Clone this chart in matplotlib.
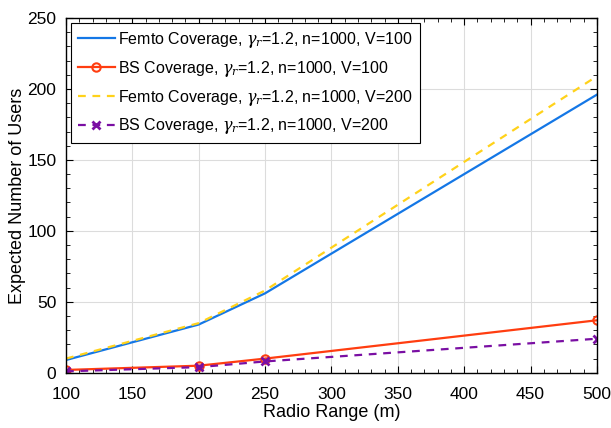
import matplotlib.pyplot as plt
from matplotlib.ticker import MultipleLocator

plt.rcParams['font.family'] = ['Liberation Sans', 'DejaVu Sans']
plt.rcParams['mathtext.fontset'] = 'dejavuserif'

radio = [100, 200, 250, 500]
femto_v100 = [9, 34, 56, 196]
bs_v100 = [2, 5, 10, 37]
femto_v200 = [10, 35, 58, 209]
bs_v200 = [1, 4, 8, 24]

fig = plt.figure(figsize=(6.11, 4.28), dpi=100)
ax = fig.add_axes([0.108, 0.129, 0.869, 0.829])

ax.plot(radio, femto_v100, color="#1477e6", lw=1.6,
        label=r"Femto Coverage, $\gamma_r$=1.2, n=1000, V=100")
ax.plot(radio, bs_v100, color="#ff3d10", lw=1.6, marker="o", ms=6, mfc="none", mew=1.5,
        label=r"BS Coverage, $\gamma_r$=1.2, n=1000, V=100")
ax.plot(radio, femto_v200, color="#ffd21a", lw=1.6, ls=(0, (3.5, 3)),
        label=r"Femto Coverage, $\gamma_r$=1.2, n=1000, V=200")
ax.plot(radio, bs_v200, color="#7a0fa3", lw=1.6, ls=(0, (3.5, 3)), marker="x", ms=6, mew=2,
        label=r"BS Coverage, $\gamma_r$=1.2, n=1000, V=200")

ax.set_xlim(100, 500)
ax.set_ylim(0, 250)
ax.xaxis.set_major_locator(MultipleLocator(50))
ax.xaxis.set_minor_locator(MultipleLocator(10))
ax.yaxis.set_major_locator(MultipleLocator(50))
ax.yaxis.set_minor_locator(MultipleLocator(10))
ax.tick_params(which="both", direction="in", top=True, right=True, labelsize=12.5)
ax.tick_params(which="major", length=5)
ax.tick_params(which="minor", length=3)
ax.tick_params(axis="x", which="major", pad=10)
ax.tick_params(axis="y", which="major", pad=7)
ax.grid(True, which="major", color="#dcdcdc", lw=0.8)
ax.set_axisbelow(True)
for s in ax.spines.values():
    s.set_linewidth(1)

ax.set_xlabel("Radio Range (m)", fontsize=13, labelpad=2)
ax.set_ylabel("Expected Number of Users", fontsize=13, labelpad=1)

leg = ax.legend(loc="upper left", fontsize=11.5, fancybox=False, edgecolor="black",
                framealpha=1, borderaxespad=0.3, handlelength=2.3, handletextpad=0.2,
                labelspacing=0.55, borderpad=0.45)
leg.get_frame().set_linewidth(0.8)

fig.savefig("out.png", dpi=100)
